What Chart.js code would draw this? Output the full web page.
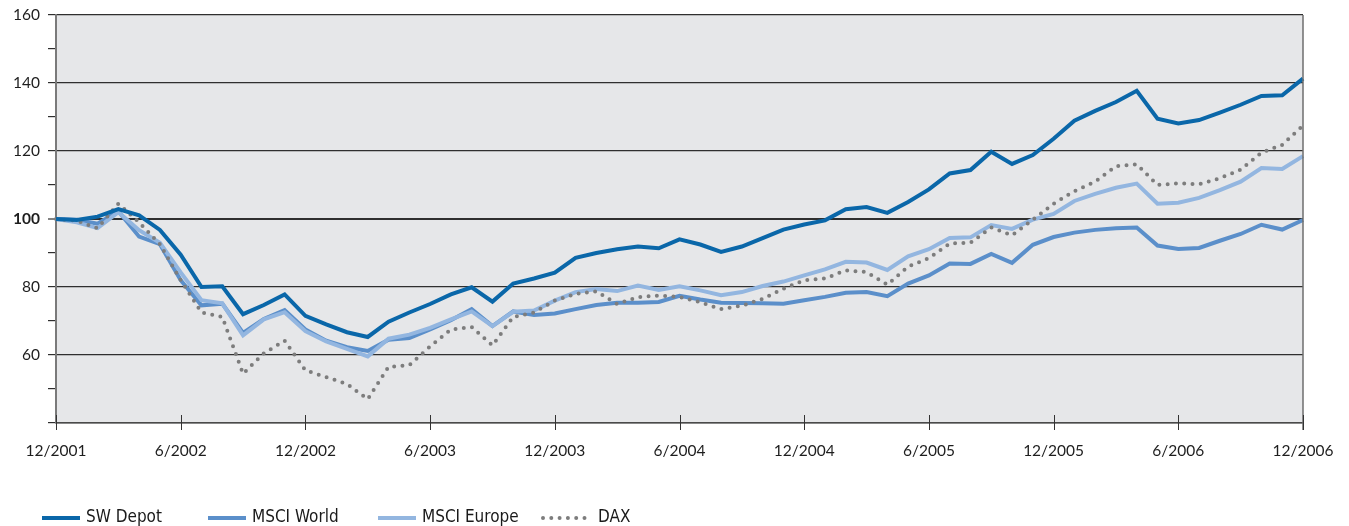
<!DOCTYPE html>
<html>
<head>
<meta charset="utf-8">
<script src="https://cdn.jsdelivr.net/npm/chart.js@4.4.1/dist/chart.umd.min.js"></script>
<style>
html, body { margin: 0; padding: 0; background: #fff; overflow: hidden; }
</style>
</head>
<body>
<canvas id="chart" width="1349" height="526"></canvas>
<script>
// months, 12/2001 .. 12/2006
const months = [
  '12/2001', '1/2002', '2/2002', '3/2002', '4/2002', '5/2002', '6/2002', '7/2002', '8/2002', '9/2002', '10/2002', '11/2002',
  '12/2002', '1/2003', '2/2003', '3/2003', '4/2003', '5/2003', '6/2003', '7/2003', '8/2003', '9/2003', '10/2003', '11/2003',
  '12/2003', '1/2004', '2/2004', '3/2004', '4/2004', '5/2004', '6/2004', '7/2004', '8/2004', '9/2004', '10/2004', '11/2004',
  '12/2004', '1/2005', '2/2005', '3/2005', '4/2005', '5/2005', '6/2005', '7/2005', '8/2005', '9/2005', '10/2005', '11/2005',
  '12/2005', '1/2006', '2/2006', '3/2006', '4/2006', '5/2006', '6/2006', '7/2006', '8/2006', '9/2006', '10/2006', '11/2006',
  '12/2006'
]

const swDepot = [
  100, 99.7, 100.7, 102.9, 101.1, 96.8, 89.5, 80, 80.2, 72, 74.7, 77.8,
  71.5, 69, 66.7, 65.3, 69.8, 72.5, 75, 77.8, 79.9, 75.7, 81, 82.5,
  84.2, 88.6, 90, 91.1, 91.9, 91.4, 94, 92.5, 90.3, 91.9, 94.4, 96.9,
  98.4, 99.6, 102.9, 103.5, 101.8, 105, 108.7, 113.4, 114.4, 119.8, 116.2, 118.8,
  123.6, 128.9, 131.8, 134.4, 137.7, 129.5, 128.1, 129.1, 131.3, 133.6, 136.2, 136.4,
  141.3
]

const msciWorld = [
  100, 99.8, 98.6, 102.3, 94.8, 92.6, 82, 74.6, 75.1, 66.5, 70.6, 73.2,
  67.5, 64.2, 62.3, 61.2, 64.5, 65, 67.5, 70.2, 73.5, 68.5, 72.8, 71.8,
  72.2, 73.5, 74.7, 75.4, 75.4, 75.6, 77.4, 76.3, 75.4, 75.3, 75.2, 75.1,
  76.1, 77.1, 78.3, 78.5, 77.3, 81, 83.4, 86.9, 86.8, 89.7, 87.1, 92.4,
  94.7, 96, 96.8, 97.3, 97.5, 92.2, 91.2, 91.5, 93.6, 95.6, 98.3, 96.9,
  99.7
]

const msciEurope = [
  100, 99, 97.3, 102, 96.7, 93, 84.3, 76.1, 75.2, 65.8, 70.5, 72.6,
  67, 64, 61.8, 59.6, 64.8, 66, 68, 70.5, 72.8, 68.5, 72.7, 73.1,
  76, 78.5, 79.4, 78.8, 80.4, 79.1, 80.2, 79, 77.6, 78.5, 80.3, 81.6,
  83.4, 85.2, 87.4, 87.2, 85, 89, 91.1, 94.4, 94.6, 98.2, 97.1, 99.8,
  101.5, 105.3, 107.4, 109.2, 110.4, 104.5, 104.8, 106.2, 108.5, 111, 115, 114.7,
  118.5
]

const dax = [
  100, 99.5, 97.3, 104.5, 99, 92.6, 82, 72.5, 71.2, 54.5, 60.5, 64.2,
  55.5, 53.5, 51.5, 47, 56.5, 57, 62.5, 67.5, 68.2, 62.8, 71.2, 72.5,
  76, 78, 78.7, 75, 77, 77.5, 77.1, 75.5, 73.5, 74.5, 76.5, 79.5,
  82, 82.5, 84.9, 84.4, 80.7, 86, 88.5, 92.8, 93, 97.5, 95.2, 99.8,
  104.5, 108.2, 111, 115.5, 116.1, 110, 110.5, 110.2, 112, 114.5, 119.5, 121.8,
  127.5
]

const tickFont = '"Lato", "Open Sans", sans-serif'
const legendFont = '"Liberation Sans Narrow", "DejaVu Sans Condensed", sans-serif'

// grey plot background + right frame line
const plotBg = {
  id: 'plotBg',
  beforeDraw(chart) {
    const { ctx, chartArea: a } = chart
    ctx.save()
    ctx.fillStyle = '#e6e7e9'
    ctx.fillRect(a.left, a.top, a.right - a.left, a.bottom - a.top)
    ctx.restore()
  },
  afterDraw(chart) {
    const { ctx, chartArea: a } = chart
    const xs = chart.scales.x
    ctx.save()
    ctx.strokeStyle = '#6e6e6e'
    ctx.lineWidth = 1.5
    ctx.beginPath()
    ctx.moveTo(a.right, a.top)
    ctx.lineTo(a.right, a.bottom + 7)
    ctx.stroke()
    // half-year tick marks crossing the x axis
    ctx.strokeStyle = '#333'
    ctx.lineWidth = 1
    for (let i = 0; i < months.length; i += 6) {
      const px = Math.round(xs.getPixelForValue(i)) + 0.5
      ctx.beginPath()
      ctx.moveTo(px, a.bottom - 8)
      ctx.lineTo(px, a.bottom + 7)
      ctx.stroke()
    }
    ctx.restore()
  }
}

// legend along the bottom edge
const legendX = [42, 208, 378, 540]
const bottomLegend = {
  id: 'bottomLegend',
  afterDraw(chart) {
    const ctx = chart.ctx
    const y = 518
    ctx.save()
    ctx.font = '17px ' + legendFont
    ctx.textBaseline = 'middle'
    chart.data.datasets.forEach((ds, i) => {
      const x = legendX[i]
      ctx.beginPath()
      ctx.strokeStyle = ds.borderColor
      ctx.lineWidth = ds.borderWidth
      ctx.lineCap = ds.borderCapStyle || 'butt'
      ctx.setLineDash(ds.borderDash || [])
      ctx.moveTo(x + (ds.borderDash ? 3 : 0), y)
      ctx.lineTo(x + (ds.borderDash ? 48 : 38), y)
      ctx.stroke()
      ctx.setLineDash([])
      ctx.fillStyle = '#1a1a1a'
      ctx.fillText(ds.label, x + (ds.borderDash ? 58 : 44), y)
    })
    ctx.restore()
  }
}

var context = document.getElementById('chart').getContext('2d')
new Chart(context, {
  type: 'line',
  data: {
    labels: months,
    datasets: [
      { label: 'SW Depot', data: swDepot, borderColor: '#0a67a9', borderWidth: 4, order: 0 },
      { label: 'MSCI World', data: msciWorld, borderColor: '#5b8fca', borderWidth: 4, order: 3 },
      { label: 'MSCI Europe', data: msciEurope, borderColor: '#93b6e0', borderWidth: 4, order: 2 },
      { label: 'DAX', data: dax, borderColor: '#7d7d7d', borderWidth: 4, borderDash: [0, 8.3], borderCapStyle: 'round', order: 1 }
    ]
  },
  options: {
    responsive: false,
    animation: false,
    devicePixelRatio: 1,
    layout: { padding: { left: 0, right: 46, top: 15, bottom: 50 } },
    elements: {
      point: { radius: 0 },
      line: { tension: 0, borderJoinStyle: 'miter', fill: false }
    },
    plugins: {
      legend: { display: false },
      tooltip: { enabled: false }
    },
    scales: {
      x: {
        offset: false,
        grid: { display: false },
        border: { color: '#4a4a4a', width: 1.5 },
        ticks: {
          autoSkip: false,
          maxRotation: 0,
          padding: 11,
          color: '#1e1e1e',
          font: { family: tickFont, size: 15.5 },
          callback: (v, i) => (i % 6 === 0 ? months[i] : '')
        },
        afterFit: s => { s.height = 53 }
      },
      y: {
        min: 40,
        max: 160,
        ticks: {
          stepSize: 10,
          padding: 8,
          color: '#1e1e1e',
          font: ctx => ({ family: tickFont, size: 15.5, weight: ctx.tick && ctx.tick.value === 100 ? 'bold' : 'normal' }),
          callback: v => (v % 20 === 0 && v > 40 ? v : '')
        },
        grid: {
          color: ctx => (ctx.tick.value % 20 === 0 ? '#2f2f2f' : 'rgba(0,0,0,0)'),
          lineWidth: ctx => (ctx.tick.value === 100 ? 2 : 1.2),
          tickColor: '#2f2f2f',
          tickWidth: 1.2,
          tickLength: 8
        },
        border: { color: '#7a7a7a', width: 2 },
        afterFit: s => { s.width = 56; s.paddingTop = 0; s.paddingBottom = 0 }
      }
    }
  },
  plugins: [plotBg, bottomLegend]
})
</script>
</body>
</html>
